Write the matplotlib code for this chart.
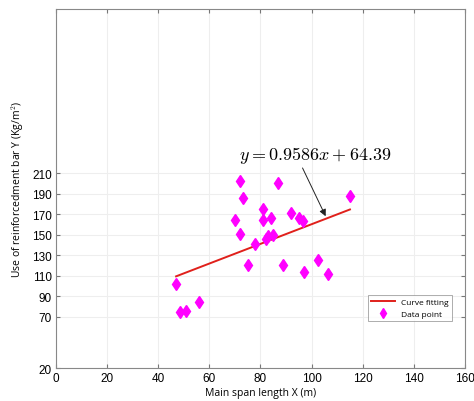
import numpy as np
import matplotlib
matplotlib.use("Agg")
import matplotlib.pyplot as plt

plt.rcParams['mathtext.fontset'] = 'cm'

# data points
span_x = [47, 48.5, 51, 56, 70, 72, 72, 73, 75, 78, 81, 81, 82, 83, 84,
          85, 87, 89, 92, 95, 96.5, 97, 102.5, 106.5, 115]
steel_y = [102, 75, 76, 84, 164, 202, 151, 186, 120, 141, 175, 164, 146, 149, 166,
           150, 200, 120, 171, 166, 163, 114, 125, 112, 188]

# fitted line y = 0.9586x + 64.39, endpoints
fit_x = [47, 115]
fit_y = [109.4, 174.6]

xticks = [0, 20, 40, 60, 80, 100, 120, 140, 160]
yticks = [20, 70, 90, 110, 130, 150, 170, 190, 210]

fig = plt.figure(figsize=(4.74, 4.02), dpi=100)
ax = fig.add_axes([0.118, 0.082, 0.863, 0.893])

ax.plot(fit_x, fit_y, color='#e0201b', lw=1.4, label='Curve fitting')
ax.plot(span_x, steel_y, 'd', color='#ff00ff', ms=6.5, ls='none', label='Data point')

ax.set_xlim(0, 160)
ax.set_ylim(20, 370)
ax.set_xticks(xticks)
ax.set_yticks(yticks)
ax.tick_params(direction='in', top=True, right=True, labelsize=8.5,
               color='#777777', length=3, pad=3)
for lab in ax.get_xticklabels() + ax.get_yticklabels():
    lab.set_family('Liberation Sans')
for s in ax.spines.values():
    s.set_color('#888888')
ax.grid(True, color='#eeeeee', lw=0.8)

ax.set_xlabel('Main span length X (m)', fontsize=7.5, family='Open Sans', labelpad=2)
ax.set_ylabel('Use of reinforcedment bar Y (Kg/m$^2$)', fontsize=7.5,
              family='Open Sans', labelpad=4)

ax.annotate(r'$y = 0.9586x + 64.39$', xy=(105.5, 168), xytext=(101.5, 228),
            ha='center', va='center', fontsize=13,
            arrowprops=dict(arrowstyle='-|>', color='#222222', lw=0.7,
                            relpos=(0.4, 0.1), shrinkA=0, shrinkB=0,
                            mutation_scale=10))

leg = ax.legend(loc='lower left', bbox_to_anchor=(0.763, 0.13, 0.205, 0.105),
                mode='expand', frameon=True, fancybox=False,
                edgecolor='#888888', handlelength=2.8, borderaxespad=0,
                markerscale=0.8, prop={'family': 'Open Sans', 'size': 6})
leg.get_frame().set_linewidth(0.6)

fig.savefig('out.png', dpi=100)
